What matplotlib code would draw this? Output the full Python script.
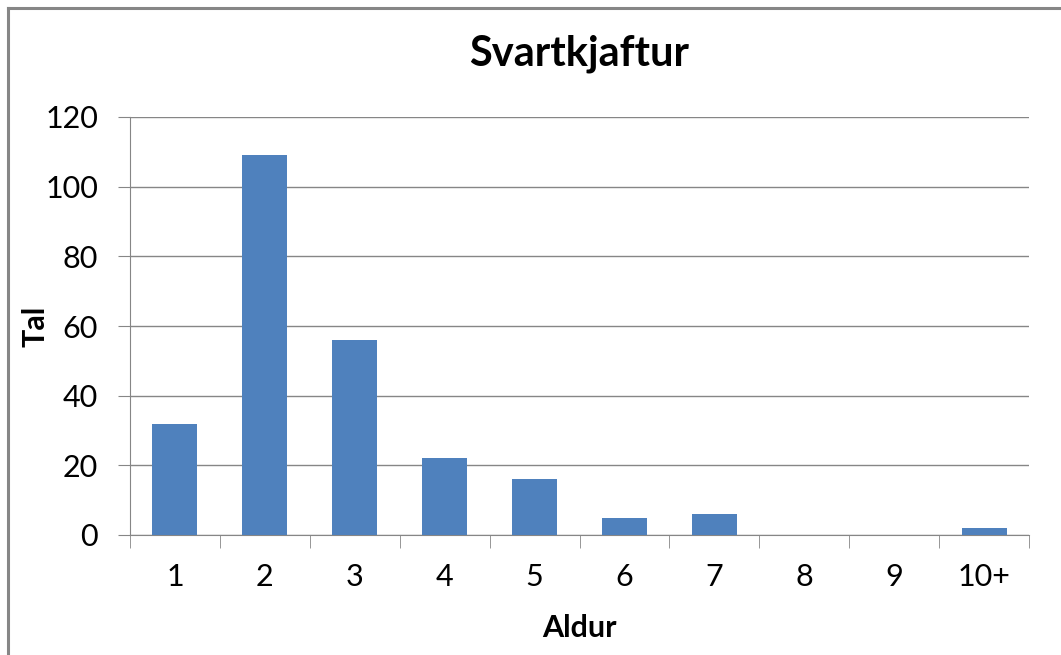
import matplotlib.pyplot as plt
from matplotlib.lines import Line2D

plt.rcParams['font.family'] = ['Lato', 'DejaVu Sans']

# Data
aldur = ['1', '2', '3', '4', '5', '6', '7', '8', '9', '10+']
tal = [32, 109, 56, 22, 16, 5, 6, 0, 0, 2]
yticks = [0, 20, 40, 60, 80, 100, 120]

fig = plt.figure(figsize=(10.61, 6.55), dpi=100)
ax = fig.add_axes([130 / 1061, 1 - 535 / 655, 899 / 1061, 418 / 655])

# outer chart frame (only left and top edges are visible in the crop)
fx, fy = 7.5 / 1061, 1 - 7.5 / 655
fig.add_artist(Line2D([fx, 1], [fy, fy], transform=fig.transFigure,
                      color='#868686', linewidth=2.2))
fig.add_artist(Line2D([fx, fx], [0, fy], transform=fig.transFigure,
                      color='#868686', linewidth=2.2))

x = range(len(aldur))
ax.bar(x, tal, width=0.5, color='#4F81BD', zorder=3)

ax.set_xlim(-0.5, len(aldur) - 0.5)
ax.set_ylim(0, 120)
ax.set_yticks(yticks)
ax.set_xticks(list(x))
ax.set_xticklabels(aldur)
ax.set_xticks([i - 0.5 for i in range(len(aldur) + 1)], minor=True)
ax.tick_params(axis='x', which='major', length=0, pad=20, labelsize=22)
ax.tick_params(axis='x', which='minor', length=9, color='#868686', direction='out')
ax.tick_params(axis='y', length=9, color='#868686', labelsize=22, pad=14)

ax.grid(axis='y', color='#868686', linewidth=1, zorder=0)
for s in ['top', 'right']:
    ax.spines[s].set_visible(False)
ax.spines['left'].set_color('#868686')
ax.spines['bottom'].set_color('#868686')

ax.set_title('Svartkjaftur', fontsize=30, fontweight='bold', pad=37)
ax.set_xlabel('Aldur', fontsize=22, fontweight='bold', labelpad=17)
ax.set_ylabel('Tal', fontsize=22, fontweight='bold', labelpad=-3)

fig.savefig('out.png', dpi=100)
